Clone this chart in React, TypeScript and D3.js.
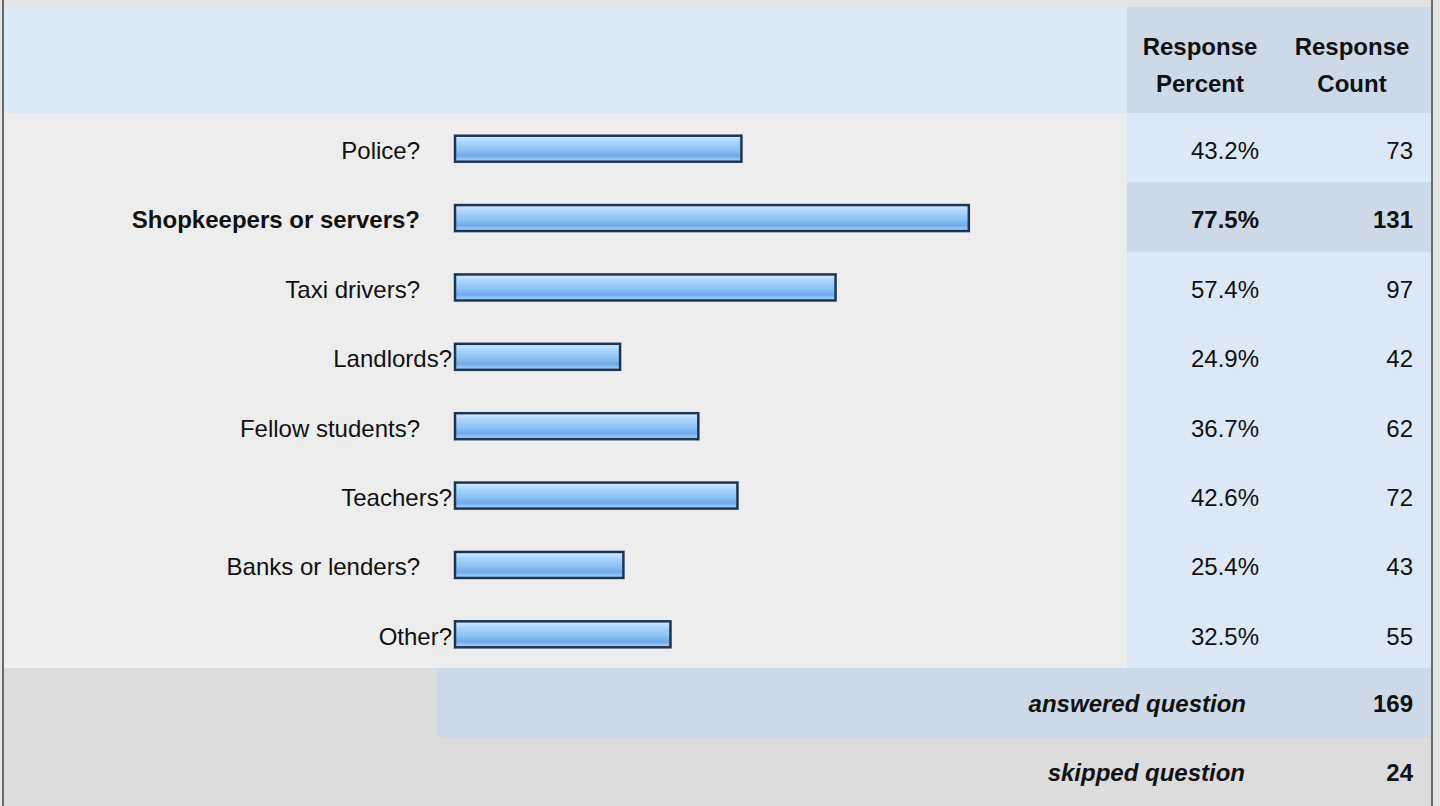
import React from 'react';
import * as d3 from 'd3';

// Survey answers
const categories = [
  'Police?',
  'Shopkeepers or servers?',
  'Taxi drivers?',
  'Landlords?',
  'Fellow students?',
  'Teachers?',
  'Banks or lenders?',
  'Other?',
];
const percents = [43.2, 77.5, 57.4, 24.9, 36.7, 42.6, 25.4, 32.5];
const counts = [73, 131, 97, 42, 62, 72, 43, 55];
const headerLines = [['Response', 'Percent'], ['Response', 'Count']];
const answeredLabel = 'answered question';
const answeredCount = 169;
const skippedLabel = 'skipped question';
const skippedCount = 24;
const highlightedRow = 1; // the bold, shaded row
// rows whose label sits further from the bar in the source
const wideGapRows = new Set([0, 1, 2, 4, 6]);

const width = 1440;
const height = 806;
const font = '"Liberation Sans", Arial, sans-serif';
const fontSize = 24;

// layout
const frameLeft = 4;
const frameRight = 1431;
const headerTop = 7;
const headerBottom = 113;
const bodyBottom = 668;
const answeredBottom = 738;
const pctColLeft = 1127;
const footerSplit = 437;
const barLeft = 455;
const barFullRight = 1118;

const App: React.FC = () => {
  // Rows scale
  const y = d3.scaleBand<number>()
    .domain(d3.range(categories.length))
    .range([headerBottom, bodyBottom])
    .paddingInner(0)
    .paddingOuter(0);

  // Bar length scale, 0 – 100 %
  const x = d3.scaleLinear()
    .domain([0, 100])
    .range([barLeft, barFullRight]);

  const barHeight = 26;
  const pctRight = 1259;
  const countRight = 1413;

  return (
    <svg
      width={width}
      height={height}
      style={{ position: 'absolute', left: 0, top: 0 }}
      fontFamily={font}
    >
      <defs>
        <linearGradient id="barFill" x1="0" y1="0" x2="0" y2="1">
          <stop offset="0%" stopColor="#d3ebff" />
          <stop offset="25%" stopColor="#a9d4fb" />
          <stop offset="55%" stopColor="#8cc2f5" />
          <stop offset="78%" stopColor="#70a9e8" />
          <stop offset="92%" stopColor="#94c8f6" />
          <stop offset="100%" stopColor="#bfe0fc" />
        </linearGradient>
      </defs>

      {/* page background and frame */}
      <rect x={0} y={0} width={width} height={height} fill="#e4e4e4" />
      <rect x={frameLeft} y={headerTop} width={frameRight - frameLeft} height={height - headerTop} fill="#ededed" />

      {/* header */}
      <rect x={frameLeft} y={headerTop} width={pctColLeft - frameLeft} height={headerBottom - headerTop} fill="#dde8f5" />
      <rect x={pctColLeft} y={headerTop} width={frameRight - pctColLeft} height={headerBottom - headerTop} fill="#cdd9e7" />

      {/* value columns background */}
      <rect x={pctColLeft} y={headerBottom} width={frameRight - pctColLeft} height={bodyBottom - headerBottom} fill="#dce8f6" />
      <rect
        x={pctColLeft}
        y={y(highlightedRow) ?? 0}
        width={frameRight - pctColLeft}
        height={y.bandwidth()}
        fill="#cdd9e7"
      />

      {/* footer rows */}
      <rect x={frameLeft} y={bodyBottom} width={frameRight - frameLeft} height={height - bodyBottom} fill="#dcdcdc" />
      <rect x={footerSplit} y={bodyBottom} width={frameRight - footerSplit} height={answeredBottom - bodyBottom} fill="#cdd9e7" />

      {/* frame lines */}
      <line x1={frameLeft - 1} x2={frameLeft - 1} y1={0} y2={height} stroke="#6a6a6a" strokeWidth={2} />
      <line x1={frameRight + 1} x2={frameRight + 1} y1={0} y2={height} stroke="#6a6a6a" strokeWidth={2} />

      {/* header text */}
      {headerLines.map((lines, i) => {
        const cx = i === 0 ? 1200 : 1352;
        return (
          <text key={`h${i}`} x={cx} textAnchor="middle" fontSize={fontSize} fontWeight="bold" fill="#111">
            {lines.map((ln, j) => (
              <tspan key={ln + j} x={cx} y={55 + j * 37}>{ln}</tspan>
            ))}
          </text>
        );
      })}

      {/* rows */}
      {categories.map((cat, i) => {
        const top = y(i) ?? 0;
        const cy = top + y.bandwidth() / 2 + 1;
        const bold = i === highlightedRow;
        return (
          <g key={cat}>
            <text
              x={wideGapRows.has(i) ? 420 : 452}
              y={cy + 2}
              dy="0.35em"
              textAnchor="end"
              fontSize={fontSize}
              fontWeight={bold ? 'bold' : 'normal'}
              fill="#111"
            >
              {cat}
            </text>
            <rect
              x={x(0)}
              y={cy - barHeight / 2}
              width={x(percents[i]) - x(0)}
              height={barHeight}
              fill="url(#barFill)"
              stroke="#1e3552"
              strokeWidth={2.5}
            />
            <text
              x={pctRight}
              y={cy + 2}
              dy="0.35em"
              textAnchor="end"
              fontSize={fontSize}
              fontWeight={bold ? 'bold' : 'normal'}
              fill="#111"
            >
              {`${d3.format('.1f')(percents[i])}%`}
            </text>
            <text
              x={countRight}
              y={cy + 2}
              dy="0.35em"
              textAnchor="end"
              fontSize={fontSize}
              fontWeight={bold ? 'bold' : 'normal'}
              fill="#111"
            >
              {counts[i]}
            </text>
          </g>
        );
      })}

      {/* totals */}
      <text x={1246} y={(bodyBottom + answeredBottom) / 2 + 1} dy="0.35em" textAnchor="end" fontSize={fontSize} fontWeight="bold" fontStyle="italic" fill="#111">
        {answeredLabel}
      </text>
      <text x={countRight} y={(bodyBottom + answeredBottom) / 2 + 1} dy="0.35em" textAnchor="end" fontSize={fontSize} fontWeight="bold" fill="#111">
        {answeredCount}
      </text>
      <text x={1245} y={(answeredBottom + height) / 2 + 1} dy="0.35em" textAnchor="end" fontSize={fontSize} fontWeight="bold" fontStyle="italic" fill="#111">
        {skippedLabel}
      </text>
      <text x={countRight} y={(answeredBottom + height) / 2 + 1} dy="0.35em" textAnchor="end" fontSize={fontSize} fontWeight="bold" fill="#111">
        {skippedCount}
      </text>
    </svg>
  );
};

export default App;
